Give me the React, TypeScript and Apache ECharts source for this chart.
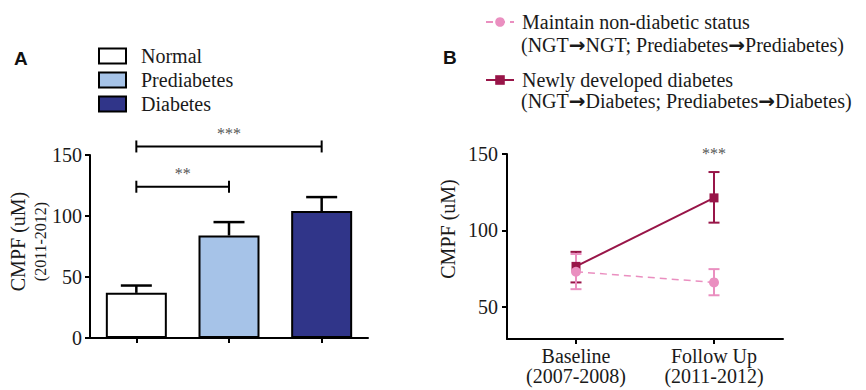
import React, { useEffect, useRef } from "react";
import * as echarts from "echarts";

// ---------- Panel A data ----------
const groupsA = ["Normal", "Prediabetes", "Diabetes"];
const meansA = [37, 84, 104];
const errUpperA = [43, 95, 115.5];
const colorsA = ["#ffffff", "#a6c3e8", "#303589"];
// significance brackets: [from category, to category, bracket height (uM)]
const bracketFrom = [0, 0];
const bracketTo = [2, 1];
const bracketY = [157, 124];
const bracketLabels = ["***", "**"];
const yTicksA = [0, 50, 100, 150];

// ---------- Panel B data ----------
const timepointsB = ["Baseline\n(2007-2008)", "Follow Up\n(2011-2012)"];
const maintainName = "Maintain non-diabetic status";
const maintainSub = "(NGT\u2192NGT; Prediabetes\u2192Prediabetes)";
const newlyName = "Newly developed diabetes";
const newlySub = "(NGT\u2192Diabetes; Prediabetes\u2192Diabetes)";
const maintainMean = [73, 66];
const maintainLow = [61.6, 57.6];
const maintainHigh = [84.6, 74.7];
const newlyMean = [76.5, 121.3];
const newlyLow = [66, 105.1];
const newlyHigh = [86, 138.2];
const sigBIndex = [1];
const sigBValue = [150];
const sigBLabel = ["***"];
const yTicksB = [50, 100, 150];
const yNameB = "CMPF (uM)";

const SERIF = "Liberation Serif";
const TXT = "#1a1a1a";
const STAR = "#555555";
const PINK = "#ea8fc0";
const DARK = "#981548";

const withArrows = (s: string) => s.split("\u2192").join("{arr|\u2192}");

function App() {
  const ref = useRef<HTMLDivElement>(null);
  useEffect(() => {
    if (!ref.current) return;
    const chart = echarts.init(ref.current, null, { renderer: "svg" });

    const barSeries = groupsA.map((g, i) => ({
      name: g,
      type: "bar",
      xAxisIndex: 0,
      yAxisIndex: 0,
      barWidth: 61,
      barGap: "-100%",
      data: meansA.map((v, j) => (j === i ? v : "-")),
      itemStyle: { color: colorsA[i], borderColor: "#000", borderWidth: 2 },
      z: 2,
    }));

    const errA = {
      type: "custom",
      xAxisIndex: 0,
      yAxisIndex: 0,
      z: 3,
      silent: true,
      itemStyle: { color: "#000" },
      encode: { x: 0, y: [1, 2] },
      data: meansA.map((v, i) => [i, v, errUpperA[i]]),
      renderItem: (params: any, api: any) => {
        const x = api.value(0);
        const p1 = api.coord([x, api.value(1)]);
        const p2 = api.coord([x, api.value(2)]);
        const cw = 31;
        const st = { stroke: "#000", lineWidth: 2.5 };
        return {
          type: "group",
          children: [
            { type: "line", shape: { x1: p1[0], y1: p1[1], x2: p2[0], y2: p2[1] }, style: st },
            { type: "line", shape: { x1: p2[0] - cw / 2, y1: p2[1], x2: p2[0] + cw / 2, y2: p2[1] }, style: st },
          ],
        };
      },
    };

    const bracketsA = {
      type: "custom",
      xAxisIndex: 0,
      yAxisIndex: 0,
      z: 3,
      silent: true,
      clip: false,
      itemStyle: { color: STAR },
      encode: { x: [0, 1], y: 2 },
      data: bracketFrom.map((f, i) => [f, bracketTo[i], bracketY[i]]),
      renderItem: (params: any, api: any) => {
        const a = api.coord([api.value(0), api.value(2)]);
        const b = api.coord([api.value(1), api.value(2)]);
        const st = { stroke: "#000", lineWidth: 2 };
        const label = bracketLabels[params.dataIndex];
        return {
          type: "group",
          children: [
            { type: "line", shape: { x1: a[0], y1: a[1], x2: b[0], y2: b[1] }, style: st },
            { type: "line", shape: { x1: a[0], y1: a[1] - 6, x2: a[0], y2: a[1] + 6 }, style: st },
            { type: "line", shape: { x1: b[0], y1: b[1] - 6, x2: b[0], y2: b[1] + 6 }, style: st },
            {
              type: "text",
              x: (a[0] + b[0]) / 2,
              y: a[1] - 13,
              style: {
                text: label,
                fill: STAR,
                fontFamily: SERIF,
                fontSize: 16,
                align: "center",
                verticalAlign: "middle",
              },
            },
          ],
        };
      },
    };

    const errRenderB = (color: string, lows: number[], highs: number[]) => ({
      type: "custom",
      xAxisIndex: 1,
      yAxisIndex: 1,
      silent: true,
      z: 3,
      itemStyle: { color },
      encode: { x: 0, y: [1, 2] },
      data: lows.map((l, i) => [i, l, highs[i]]),
      renderItem: (params: any, api: any) => {
        const x = api.value(0);
        const p1 = api.coord([x, api.value(1)]);
        const p2 = api.coord([x, api.value(2)]);
        const cw = 11;
        const st = { stroke: color, lineWidth: 2 };
        return {
          type: "group",
          children: [
            { type: "line", shape: { x1: p1[0], y1: p1[1], x2: p2[0], y2: p2[1] }, style: st },
            { type: "line", shape: { x1: p1[0] - cw / 2, y1: p1[1], x2: p1[0] + cw / 2, y2: p1[1] }, style: st },
            { type: "line", shape: { x1: p2[0] - cw / 2, y1: p2[1], x2: p2[0] + cw / 2, y2: p2[1] }, style: st },
          ],
        };
      },
    });

    const sigB = {
      type: "custom",
      xAxisIndex: 1,
      yAxisIndex: 1,
      silent: true,
      clip: false,
      z: 5,
      itemStyle: { color: STAR },
      encode: { x: 0, y: 1 },
      data: sigBIndex.map((x, i) => [x, sigBValue[i]]),
      renderItem: (params: any, api: any) => {
        const p = api.coord([api.value(0), api.value(1)]);
        return {
          type: "text",
          x: p[0],
          y: p[1] - 1,
          style: {
            text: sigBLabel[params.dataIndex],
            fill: STAR,
            fontFamily: SERIF,
            fontSize: 16,
            align: "center",
            verticalAlign: "middle",
          },
        };
      },
    };

    const axisLine = { show: true, lineStyle: { color: "#000", width: 2 } };
    const axisTick = { show: true, length: 5, lineStyle: { color: "#000", width: 2 } };
    const labelStyle = { fontFamily: SERIF, fontSize: 20, color: TXT };
    const arrowRich = {
      arr: { fontFamily: "DejaVu Sans", fontWeight: "bold", fontSize: 20, fill: TXT, color: TXT },
    };

    const option: any = {
      animation: false,
      textStyle: { fontFamily: SERIF },
      grid: [
        { left: 90, top: 155, right: 498, bottom: 52 },
        { left: 507, top: 154, right: 83, bottom: 51 },
      ],
      legend: [
        {
          data: groupsA,
          orient: "vertical",
          left: 98,
          top: 46,
          padding: 0,
          itemWidth: 27,
          itemHeight: 15,
          itemGap: 4,
          icon: "rect",
          selectedMode: false,
          itemStyle: { borderColor: "#000", borderWidth: 2 },
          textStyle: { fontFamily: SERIF, fontSize: 20, color: TXT, lineHeight: 20, padding: [0, 0, 0, 10] },
        },
        {
          data: [maintainName, newlyName],
          orient: "vertical",
          left: 485,
          top: 11,
          padding: 0,
          itemWidth: 28,
          itemHeight: 12,
          itemGap: 36,
          selectedMode: false,
          textStyle: { fontFamily: SERIF, fontSize: 20, color: TXT, lineHeight: 22, padding: [0, 0, 0, 3] },
        },
      ],
      xAxis: [
        {
          type: "category",
          gridIndex: 0,
          data: groupsA,
          boundaryGap: true,
          axisLine,
          axisTick: { ...axisTick, alignWithLabel: true },
          axisLabel: { show: false },
          splitLine: { show: false },
        },
        {
          type: "category",
          gridIndex: 1,
          data: timepointsB,
          boundaryGap: true,
          axisLine,
          axisTick: { ...axisTick, alignWithLabel: true },
          axisLabel: { ...labelStyle, lineHeight: 20, margin: 7 },
          splitLine: { show: false },
        },
      ],
      yAxis: [
        {
          type: "value",
          gridIndex: 0,
          min: 0,
          max: 150,
          interval: 50,
          axisLine,
          axisTick,
          axisLabel: { ...labelStyle, margin: 8, customValues: yTicksA },
          splitLine: { show: false },
          name: "{a|CMPF (uM)}\n{b|(2011-2012)}",
          nameLocation: "middle",
          nameRotate: 90,
          nameGap: 40,
          nameTextStyle: {
            padding: [0, 0, 0, 10],
            rich: {
              a: { fontFamily: SERIF, fontSize: 20, color: TXT, lineHeight: 24 },
              b: { fontFamily: SERIF, fontSize: 16, color: TXT, lineHeight: 20 },
            },
          },
        },
        {
          type: "value",
          gridIndex: 1,
          min: 29,
          max: 150,
          axisLine,
          axisTick: { ...axisTick, customValues: yTicksB },
          axisLabel: { ...labelStyle, margin: 9, customValues: yTicksB },
          splitLine: { show: false },
        },
      ],
      graphic: [
        {
          type: "text",
          left: 14,
          top: 49,
          style: { text: "A", font: 'bold 19px "Liberation Sans"', fill: "#111" },
        },
        {
          type: "text",
          left: 443,
          top: 48,
          style: { text: "B", font: 'bold 19px "Liberation Sans"', fill: "#111" },
        },
        {
          type: "text",
          x: 448,
          y: 229,
          rotation: Math.PI / 2,
          style: {
            text: yNameB,
            fontFamily: SERIF,
            fontSize: 20,
            fill: TXT,
            align: "center",
            verticalAlign: "middle",
          },
        },
        {
          type: "text",
          left: 521,
          top: 35,
          style: {
            text: withArrows(maintainSub),
            fontFamily: SERIF,
            fontSize: 20,
            fill: TXT,
            rich: arrowRich,
          },
        },
        {
          type: "text",
          left: 521,
          top: 91,
          style: {
            text: withArrows(newlySub),
            fontFamily: SERIF,
            fontSize: 20,
            fill: TXT,
            rich: arrowRich,
          },
        },
      ],
      series: [
        ...barSeries,
        errA,
        bracketsA,
        errRenderB(DARK, newlyLow, newlyHigh),
        {
          name: newlyName,
          type: "line",
          xAxisIndex: 1,
          yAxisIndex: 1,
          data: newlyMean,
          symbol: "rect",
          symbolSize: 9,
          lineStyle: { color: DARK, width: 2 },
          itemStyle: { color: DARK },
          z: 4,
        },
        errRenderB(PINK, maintainLow, maintainHigh),
        {
          name: maintainName,
          type: "line",
          xAxisIndex: 1,
          yAxisIndex: 1,
          data: maintainMean,
          symbol: "circle",
          symbolSize: 10,
          lineStyle: { color: PINK, width: 1.5, type: [7, 5] },
          itemStyle: { color: PINK },
          z: 5,
        },
        sigB,
      ],
    };
    chart.setOption(option);
    return () => chart.dispose();
  }, []);
  return (
    <div
      ref={ref}
      style={{ position: "absolute", left: 0, top: 0, width: 866, height: 390, background: "#fff" }}
    />
  );
}

export default App;
